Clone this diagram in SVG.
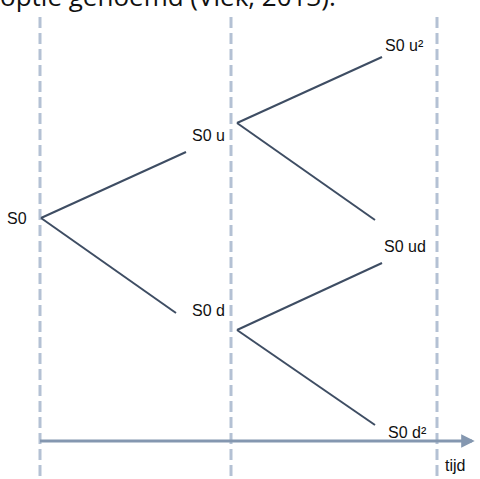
<svg xmlns="http://www.w3.org/2000/svg" width="480" height="479" viewBox="0 0 480 479">
<style>
.t{font-family:"Liberation Sans","DejaVu Sans",sans-serif;font-size:16px;fill:#111}
.cap{font-family:"Open Sans","Liberation Sans",sans-serif;font-size:26px;fill:#111}
.grid{stroke:#b4c1d4;stroke-width:3;stroke-dasharray:11 5;fill:none}
.br{stroke:#3e4d63;stroke-width:2;fill:none}
.ax{stroke:#8497b0;stroke-width:3;fill:none}
</style>
<defs>
<marker id="ah" viewBox="0 0 10 10" refX="8" refY="5" markerWidth="4.5" markerHeight="4.5" orient="auto" markerUnits="strokeWidth">
<path d="M0,0 L10,5 L0,10 z" fill="#8497b0"/>
</marker>
</defs>
<text class="cap" x="0" y="6">optie genoemd (Vlek, 2013).</text>
<g id="grid">
<line class="grid" x1="40" y1="17" x2="40" y2="479"/>
<line class="grid" x1="231" y1="17" x2="231" y2="479"/>
<line class="grid" x1="437" y1="17" x2="437" y2="479"/>
</g>
<g id="connectors">
<line class="br" x1="41" y1="218" x2="186" y2="152"/>
<line class="br" x1="41" y1="218" x2="176" y2="313"/>
<line class="br" x1="237" y1="123" x2="382" y2="57"/>
<line class="br" x1="237" y1="123" x2="375" y2="220"/>
<line class="br" x1="237" y1="330" x2="382" y2="263"/>
<line class="br" x1="237" y1="330" x2="375" y2="425"/>
<line class="ax" x1="40" y1="441" x2="472" y2="441" marker-end="url(#ah)"/>
</g>
<g id="n-s0"><text class="t" x="7" y="224">S0</text></g>
<g id="n-su"><text class="t" x="192" y="141">S0 u</text></g>
<g id="n-sd"><text class="t" x="192" y="316">S0 d</text></g>
<g id="n-suu"><text class="t" x="385" y="51">S0 u²</text></g>
<g id="n-sud"><text class="t" x="384" y="252">S0 ud</text></g>
<g id="n-sdd"><text class="t" x="388" y="438">S0 d²</text></g>
<g id="n-tijd"><text class="t" x="445" y="471">tijd</text></g>
</svg>
